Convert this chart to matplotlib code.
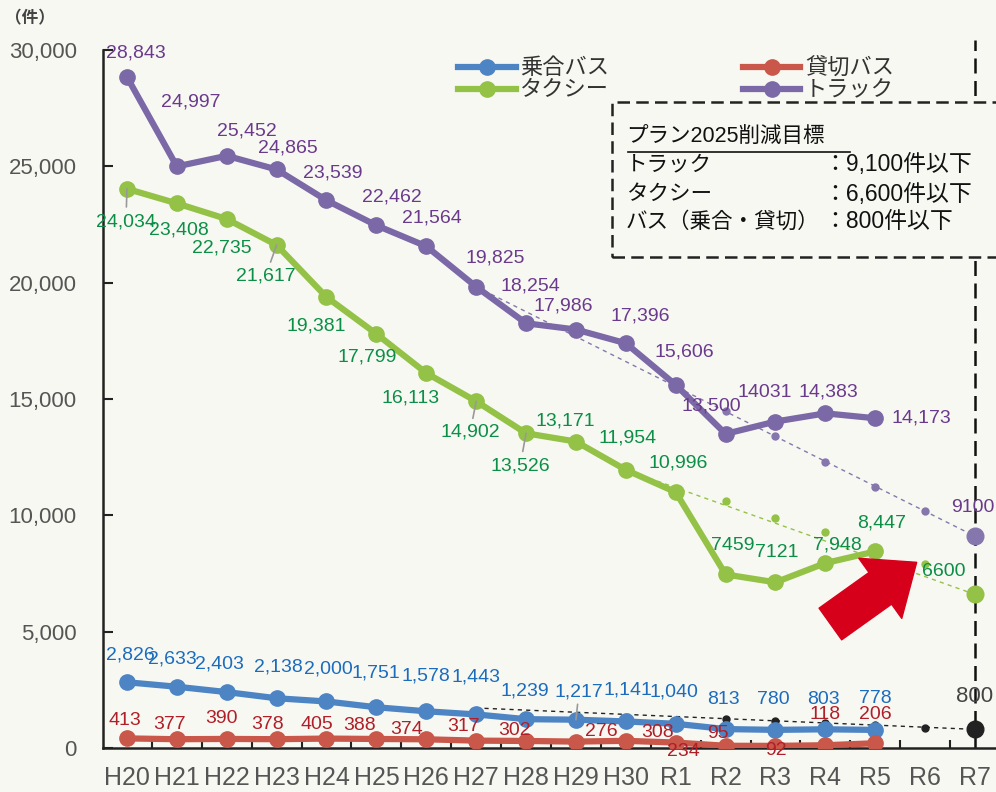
import numpy as np
import matplotlib
matplotlib.use('Agg')
import matplotlib.pyplot as plt
from matplotlib.patches import Rectangle
from matplotlib.lines import Line2D

plt.rcParams['font.family'] = ['Liberation Sans', 'Noto Sans CJK JP', 'DejaVu Sans']

# データ（H20〜R5 実績、R7 目標）
years = ['H20', 'H21', 'H22', 'H23', 'H24', 'H25', 'H26', 'H27', 'H28', 'H29',
         'H30', 'R1', 'R2', 'R3', 'R4', 'R5', 'R6', 'R7']
truck = [28843, 24997, 25452, 24865, 23539, 22462, 21564, 19825, 18254, 17986,
         17396, 15606, 13500, 14031, 14383, 14173]
taxi = [24034, 23408, 22735, 21617, 19381, 17799, 16113, 14902, 13526, 13171,
        11954, 10996, 7459, 7121, 7948, 8447]
bus_route = [2826, 2633, 2403, 2138, 2000, 1751, 1578, 1443, 1239, 1217,
             1141, 1040, 813, 780, 803, 778]
bus_charter = [413, 377, 390, 378, 405, 388, 374, 317, 302, 276,
               308, 234, 95, 92, 118, 206]
truck_lbl = ['28,843', '24,997', '25,452', '24,865', '23,539', '22,462', '21,564', '19,825',
             '18,254', '17,986', '17,396', '15,606', '13,500', '14031', '14,383', '14,173']
taxi_lbl = ['24,034', '23,408', '22,735', '21,617', '19,381', '17,799', '16,113', '14,902',
            '13,526', '13,171', '11,954', '10,996', '7459', '7121', '7,948', '8,447']

# 目標ライン（始点・R7目標）と途中の点
goal_start = {'truck': 'H27', 'taxi': 'H30', 'bus': 'H27'}
truck_goal = [19825, 9100]
taxi_goal = [11954, 6600]
bus_goal = [1720, 800]
goal_dot_years = ['R2', 'R3', 'R4', 'R5', 'R6']
truck_goal_dots = [14500, 13400, 12300, 11200, 10200]
taxi_goal_dots = [10600, 9900, 9300, 8600, 7900]
bus_goal_dots = [1240, 1150, 1070, 980, 880]

# 色
c_truck, c_truck_t = '#7b68a6', '#6a3a8c'
c_taxi, c_taxi_t = '#93c247', '#0b8f46'
c_bus, c_bus_t = '#4d84c4', '#1b6cbd'
c_chr, c_chr_t = '#c9574a', '#b01e28'
bg = '#f8f8f3'

# ラベル位置（ピクセルオフセット）
off_truck = [(9, 24), (14, 64), (20, 25), (11, 21), (6, 27), (15, 28), (6, 28), (19, 29),
             (4, 37), (-13, 24), (14, 27), (9, 33), (-14, 28), (-11, 29), (3, 21), (46, 0)]
off_taxi = [(-1, -33), (2, -27), (-5, -29), (-11, -31), (-10, -29), (-9, -23), (-16, -25), (-6, -31),
            (-6, -33), (-11, 21), (2, 32), (2, 29), (7, 29), (1, 30), (12, 18), (6, 28)]
off_bus = [(3, 27), (-4, 28), (-7, 28), (2, 31), (2, 32), (-1, 34), (0, 35), (0, 37),
           (-1, 28), (3, 28), (2, 31), (-2, 32), (-2, 30), (-2, 30), (-2, 30), (0, 31)]
off_chr = [(-2, 18), (-7, 15), (-5, 20), (-9, 15), (-10, 14), (-17, 13), (-20, 10), (-13, 14),
           (-12, 10), (25, 10), (32, 8), (8, -9), (-8, 12), (0, -5), (0, 31), (0, 29)]
# 引き出し線のある点
leaders = [('taxi', 0), ('taxi', 3), ('taxi', 7), ('taxi', 8), ('bus', 9)]

fig = plt.figure(figsize=(9.96, 7.92), dpi=100, facecolor=bg)
ax = fig.add_axes([103 / 996, 44 / 792, 893 / 996, 698 / 792])
ax.set_facecolor(bg)

x = np.arange(len(years))
xa = x[:len(truck)]

def goal(vals, dots, start, color, ms_end, z=2):
    i0 = years.index(start)
    ax.plot([i0, len(years) - 1], vals, ls=(0, (3, 3)), lw=1.0, color=color, zorder=z)
    xd = [years.index(y) for y in goal_dot_years]
    ax.plot(xd, dots, 'o', ms=5, color=color, zorder=z)
    ax.plot([len(years) - 1], [vals[-1]], 'o', ms=ms_end, color=color, zorder=z + 3)

goal(truck_goal, truck_goal_dots, goal_start['truck'], '#8577ad', 12)
goal(taxi_goal, taxi_goal_dots, goal_start['taxi'], c_taxi, 12)
goal(bus_goal, bus_goal_dots, goal_start['bus'], '#222222', 12)

kw = dict(lw=4.5, marker='o', ms=11, zorder=4)
l_bus, = ax.plot(xa, bus_route, color=c_bus, label='乗合バス', **kw)
l_chr, = ax.plot(xa, bus_charter, color=c_chr, label='貸切バス', **kw)
l_taxi, = ax.plot(xa, taxi, color=c_taxi, label='タクシー', **kw)
l_truck, = ax.plot(xa, truck, color=c_truck, label='トラック', **kw)

series = {'truck': truck, 'taxi': taxi, 'bus': bus_route, 'chr': bus_charter}
offsets = {'truck': off_truck, 'taxi': off_taxi, 'bus': off_bus, 'chr': off_chr}
for name, i in leaders:
    dx, dy = offsets[name][i]
    ax.annotate('', (xa[i], series[name][i]), xytext=(dx * 0.55, dy * 0.55), textcoords='offset pixels',
                arrowprops=dict(arrowstyle='-', color='#999999', lw=1.2, shrinkA=0, shrinkB=0), zorder=5)

def labels(vals, texts, offs, color):
    for xi, v, t, o in zip(xa, vals, texts, offs):
        ax.annotate(t, (xi, v), xytext=o, textcoords='offset pixels', ha='center', va='center',
                    fontsize=14, color=color, zorder=6)

labels(truck, truck_lbl, off_truck, c_truck_t)
labels(taxi, taxi_lbl, off_taxi, c_taxi_t)
labels(bus_route, [f'{v:,}' for v in bus_route], off_bus, c_bus_t)
labels(bus_charter, [f'{v:,}' for v in bus_charter], off_chr, c_chr_t)

r7 = len(years) - 1
ax.annotate(f'{truck_goal[-1]}', (r7, truck_goal[-1]), xytext=(-2, 29), textcoords='offset pixels',
            ha='center', va='center', fontsize=14, color=c_truck_t, zorder=6)
ax.annotate(f'{taxi_goal[-1]}', (r7, taxi_goal[-1]), xytext=(-31, 23), textcoords='offset pixels',
            ha='center', va='center', fontsize=14, color=c_taxi_t, zorder=6)
ax.annotate(f'{bus_goal[-1]}', (r7, bus_goal[-1]), xytext=(0, 33), textcoords='offset pixels',
            ha='center', va='center', fontsize=16, color='#444444', zorder=6)

# R7 縦の破線
ax.plot([r7, r7], [0, 30450], color='#111111', lw=1.8, ls=(0, (6, 3)), clip_on=False, zorder=1)

# 赤い矢印
ax.annotate('', xy=(15.83, 7980), xytext=(14.1, 5330),
            arrowprops=dict(arrowstyle='simple,head_length=1.15,head_width=1.9,tail_width=1.0',
                            mutation_scale=28, color='#d7001b', shrinkA=0, shrinkB=0), zorder=7)

ax.set_xlim(-0.48, 17.42)
ax.set_ylim(0, 30000)
ax.set_xticks(x)
ax.set_xticklabels(years, fontsize=18, color='#555555')
ax.set_xticks(x[:-1] + 0.5, minor=True)
ax.tick_params(axis='x', which='major', length=0, pad=13)
ax.tick_params(axis='x', which='minor', direction='in', length=6, width=1.5, color='#222222')
ax.set_yticks(range(0, 30001, 5000))
ax.set_yticklabels([f'{v:,}' for v in range(0, 30001, 5000)], fontsize=16, color='#555555')
ax.tick_params(axis='y', direction='in', length=7, width=1.5, color='#222222', pad=19)
for s in ['top', 'right']:
    ax.spines[s].set_visible(False)
for s in ['left', 'bottom']:
    ax.spines[s].set_linewidth(1.8)
    ax.spines[s].set_color('#222222')

fig.text(30 / 996, 1 - 18 / 792, '（件）', fontsize=12, fontweight='bold', color='#444444',
         ha='center', va='center')

leg = ax.legend(handles=[l_bus, l_taxi, l_chr, l_truck], ncol=2, frameon=False,
                loc='upper left', bbox_to_anchor=(447 / 996, 1 - 47 / 792),
                bbox_transform=fig.transFigure, fontsize=16, handlelength=2.6,
                columnspacing=6.0, labelspacing=0.05, handletextpad=0.2, borderpad=0)
for t in leg.get_texts():
    t.set_color('#333333')

# 目標の枠
box = Rectangle((612 / 996, 1 - 257 / 792), 400 / 996, 155 / 792, transform=fig.transFigure,
                facecolor=bg, edgecolor='#222222', lw=1.8, ls=(0, (5, 2.5)), zorder=8,
                clip_on=False)
fig.patches.append(box)
rows = [('プラン2025削減目標', None, 137), ('トラック', '：9,100件以下', 165),
        ('タクシー', '：6,600件以下', 194), ('バス（乗合・貸切）', '：800件以下', 222)]
for left, right, yp in rows:
    fig.text(626 / 996, 1 - yp / 792, left, fontsize=15.5, color='#111111', va='center', zorder=9)
    if right:
        fig.text(823 / 996, 1 - yp / 792, right, fontsize=16.5, color='#111111', va='center', zorder=9)
fig.add_artist(Line2D([628 / 996, 850 / 996], [1 - 152 / 792, 1 - 152 / 792], color='#111111',
                      lw=1.2, transform=fig.transFigure, zorder=9))

fig.savefig('out.png', dpi=100, facecolor=bg)
